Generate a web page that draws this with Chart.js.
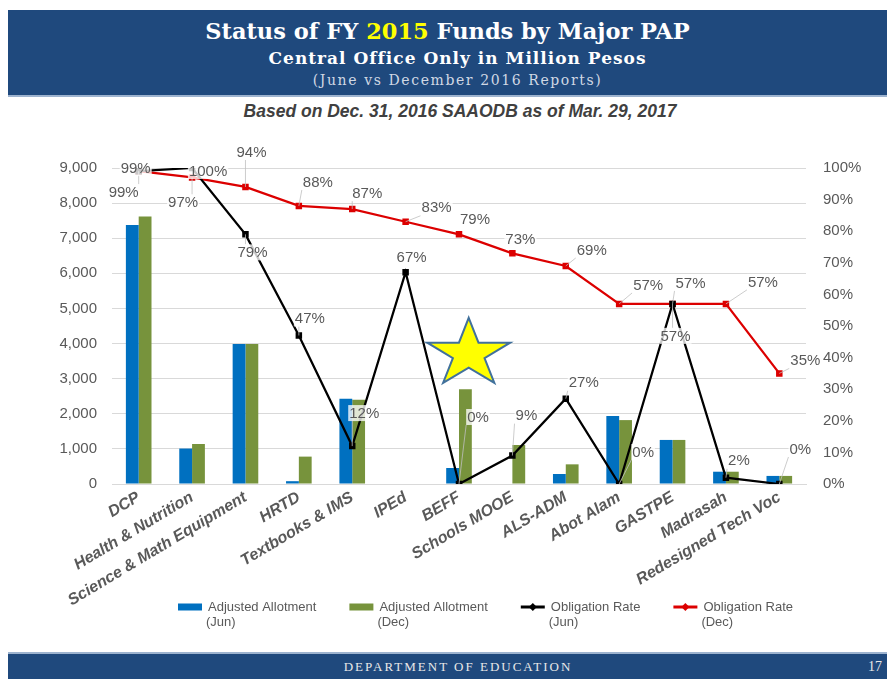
<!DOCTYPE html>
<html>
<head>
<meta charset="utf-8">
<script src="https://cdn.jsdelivr.net/npm/chart.js@4.4.1/dist/chart.umd.min.js"></script>
<style>
  html, body { margin: 0; padding: 0; background: #ffffff; }
  body { width: 895px; height: 679px; position: relative; overflow: hidden; }
  .band { position: absolute; left: 8px; width: 879px; background: #1F497D; }
  #header { top: 10px; height: 85px; border-bottom: 2px solid #9DB3CF; }
  #footer { top: 652px; height: 27px; border-top: 2px solid #9DB3CF; }
  .hl { position: absolute; left: 0; width: 879px; text-align: center; white-space: nowrap; line-height: 1; }
  #t1 { top: 8px; font: bold 22.5px "DejaVu Serif", serif; color: #ffffff; }
  #t1 span { color: #FFFF00; }
  #t2 { top: 38px; left: 10px; font: bold 17px "DejaVu Serif", serif; color: #ffffff; letter-spacing: 1px; }
  #t3 { top: 62px; left: 10px; font: 14px "DejaVu Serif", serif; color: #D0D8E4; letter-spacing: 1.6px; }
  #sub { position: absolute; top: 101px; left: 0; width: 920px; text-align: center; line-height: 1;
         font: italic bold 17.5px "Liberation Sans", Arial, sans-serif; color: #404040; }
  #foot { position: absolute; top: 5px; left: 0; width: 900px; text-align: center; line-height: 1;
          font: 13px "Liberation Serif", serif; color: #E8E8E8; letter-spacing: 2px; }
  #page { position: absolute; top: 5px; right: 5px; line-height: 1; font: 14px "Liberation Serif", serif; color: #E8E8E8; }
  #wrap { position: absolute; left: 0; top: 0; width: 895px; height: 679px; }
</style>
</head>
<body>
<div id="header" class="band">
  <div id="t1" class="hl">Status of FY <span>2015</span> Funds by Major PAP</div>
  <div id="t2" class="hl">Central Office Only in Million Pesos</div>
  <div id="t3" class="hl">(June vs December 2016 Reports)</div>
</div>
<div id="sub">Based on Dec. 31, 2016 SAAODB as of Mar. 29, 2017</div>
<div id="footer" class="band">
  <div id="foot">DEPARTMENT OF EDUCATION</div>
  <div id="page">17</div>
</div>
<div id="wrap"><canvas id="c" width="895" height="679"></canvas></div>
<script>
// ---- data ----
const categories = ['DCP', 'Health & Nutrition', 'Science & Math Equipment', 'HRTD', 'Textbooks & IMS', 'IPEd', 'BEFF', 'Schools MOOE', 'ALS-ADM', 'Abot Alam', 'GASTPE', 'Madrasah', 'Redesigned Tech Voc'];
const allotmentJun = [7380, 1010, 3990, 80, 2430, 15, 455, 15, 285, 1940, 1255, 350, 230];
const allotmentDec = [7620, 1140, 3990, 780, 2400, 15, 2700, 1110, 560, 1820, 1255, 350, 230];
const obligationJun = [99, 100, 79, 47, 12, 67, 0, 9, 27, 0, 57, 2, 0];
const obligationDec = [99, 97, 94, 88, 87, 83, 79, 73, 69, 57, 57, 57, 35];
const leftTicks = [0, 1000, 2000, 3000, 4000, 5000, 6000, 7000, 8000, 9000];
const rightTicks = [0, 10, 20, 30, 40, 50, 60, 70, 80, 90, 100];
const seriesNames = [['Adjusted Allotment', '(Jun)'], ['Adjusted Allotment', '(Dec)'], ['Obligation Rate', '(Jun)'], ['Obligation Rate', '(Dec)']];

// ---- label placement (pixel offsets of each value label from its point) ----
const decLabelDx = [-15, -9, 6, 19, 15, 31, 16, 8, 26, 29, 18, 37, 26];
const decLabelDy = [21, 25, -35, -24, -16, -14, -15, -14, -16, -19, -21, -22, -13];
const junLabelDx = [-3, 16, 7, 11, 12, 6, 19, 14, 18, 24, 3, 13, 21];
const junLabelDy = [-3, 3, 18, -17, -33, -15, -67, -40, -16, -32, 32, -17, -35];

const GRAY = '#595959';
const FONT = '"Liberation Sans", Arial, sans-serif';

const decorPlugin = {
  id: 'decor',
  afterDatasetsDraw(chart) {
    const ctx = chart.ctx;
    const area = chart.chartArea;
    // decorative star
    ctx.save();
    const cx = area.left + (area.right - area.left) * 0.514;
    const cy = area.top + (area.bottom - area.top) * 0.588;
    const R = 36, r = 36 * 0.382, sx = 1.21;
    ctx.beginPath();
    for (let k = 0; k < 10; k++) {
      const rad = (k % 2 === 0) ? R : r;
      const a = -Math.PI / 2 + k * Math.PI / 5;
      const px = cx + Math.cos(a) * rad * sx;
      const py = cy + Math.sin(a) * rad;
      if (k === 0) ctx.moveTo(px, py); else ctx.lineTo(px, py);
    }
    ctx.closePath();
    ctx.fillStyle = '#FFFF00';
    ctx.fill();
    ctx.lineWidth = 2;
    ctx.strokeStyle = '#41719C';
    ctx.stroke();
    ctx.restore();

    const drawSet = (dsIndex, values, dxs, dys) => {
      const meta = chart.getDatasetMeta(dsIndex);
      ctx.save();
      ctx.font = '15px ' + FONT;
      ctx.textAlign = 'center';
      ctx.textBaseline = 'middle';
      meta.data.forEach((pt, i) => {
        const text = values[i] + '%';
        const lx = pt.x + dxs[i];
        const ly = pt.y + dys[i];
        const w = ctx.measureText(text).width + 2;
        const h = 16;
        const nx = Math.max(lx - w / 2, Math.min(pt.x, lx + w / 2));
        const ny = Math.max(ly - h / 2, Math.min(pt.y, ly + h / 2));
        if (Math.hypot(nx - pt.x, ny - pt.y) > 7) {
          ctx.beginPath();
          ctx.moveTo(pt.x, pt.y);
          ctx.lineTo(nx, ny);
          ctx.strokeStyle = '#BFBFBF';
          ctx.lineWidth = 0.8;
          ctx.stroke();
        }
        ctx.fillStyle = 'rgba(255,255,255,0.78)';
        ctx.fillRect(lx - w / 2, ly - h / 2, w, h);
        ctx.fillStyle = GRAY;
        ctx.fillText(text, lx, ly + 0.5);
      });
      ctx.restore();
    };
    drawSet(3, obligationDec, decLabelDx, decLabelDy);
    drawSet(2, obligationJun, junLabelDx, junLabelDy);
  },
  afterDraw(chart) {
    // legend (two-line entries)
    const ctx = chart.ctx;
    ctx.save();
    ctx.font = '13px ' + FONT;
    ctx.textBaseline = 'middle';
    ctx.textAlign = 'left';
    let x = 178;
    const y = 607;
    chart.data.datasets.forEach((ds) => {
      if (ds.type === 'line') {
        ctx.strokeStyle = ds.borderColor;
        ctx.lineWidth = 3;
        ctx.beginPath();
        ctx.moveTo(x, y);
        ctx.lineTo(x + 24, y);
        ctx.stroke();
        ctx.fillStyle = ds.borderColor;
        ctx.beginPath();
        ctx.moveTo(x + 12, y - 4);
        ctx.lineTo(x + 16, y);
        ctx.lineTo(x + 12, y + 4);
        ctx.lineTo(x + 8, y);
        ctx.closePath();
        ctx.fill();
      } else {
        ctx.fillStyle = ds.backgroundColor;
        ctx.fillRect(x, y - 3.5, 24, 7);
      }
      ctx.fillStyle = GRAY;
      ctx.fillText(ds.label[0], x + 30, y);
      ctx.fillText(ds.label[1], x + 28, y + 15);
      x += 30 + ctx.measureText(ds.label[0]).width + 33;
    });
    ctx.restore();
  }
};

new Chart(document.getElementById('c'), {
  type: 'bar',
  data: {
    labels: categories,
    datasets: [
      { type: 'bar', label: seriesNames[0], data: allotmentJun, backgroundColor: '#0070C0', yAxisID: 'y', order: 3,
        barPercentage: 1.0, categoryPercentage: 0.48 },
      { type: 'bar', label: seriesNames[1], data: allotmentDec, backgroundColor: '#77933C', yAxisID: 'y', order: 3,
        barPercentage: 1.0, categoryPercentage: 0.48 },
      { type: 'line', label: seriesNames[2], data: obligationJun, borderColor: '#000000', backgroundColor: '#000000',
        borderWidth: 2.25, pointStyle: 'rect', pointRadius: 3, yAxisID: 'y1', order: 1, tension: 0 },
      { type: 'line', label: seriesNames[3], data: obligationDec, borderColor: '#DC0000', backgroundColor: '#DC0000',
        borderWidth: 2.25, pointStyle: 'rect', pointRadius: 3, yAxisID: 'y1', order: 2, tension: 0 }
    ]
  },
  options: {
    responsive: false,
    animation: false,
    layout: { padding: { top: 168, left: 0, right: 0, bottom: 60 } },
    plugins: {
      tooltip: { enabled: false },
      legend: { display: false }
    },
    scales: {
      x: {
        grid: { display: false, drawTicks: false },
        border: { display: true, color: '#D9D9D9' },
        ticks: {
          autoSkip: false, minRotation: 31, maxRotation: 31, padding: 4,
          color: GRAY, font: { size: 16, style: 'italic', weight: 'bold', family: FONT }
        },
        afterFit(scale) { scale.height = 135; }
      },
      y: {
        position: 'left', min: 0, max: 9000,
        afterBuildTicks(scale) { scale.ticks = leftTicks.map(v => ({ value: v })); },
        grid: { color: '#D9D9D9', drawTicks: false },
        border: { display: false },
        ticks: {
          padding: 15, color: GRAY, font: { size: 15, family: FONT },
          callback: v => v.toLocaleString('en-US')
        },
        afterFit(scale) { scale.width = 112; }
      },
      y1: {
        position: 'right', min: 0, max: 100,
        afterBuildTicks(scale) { scale.ticks = rightTicks.map(v => ({ value: v })); },
        grid: { drawOnChartArea: false, drawTicks: false },
        border: { display: false },
        ticks: { padding: 17, color: GRAY, font: { size: 15, family: FONT }, callback: v => v + '%' },
        afterFit(scale) { scale.width = 89; }
      }
    }
  },
  plugins: [decorPlugin]
});
</script>
</body>
</html>
